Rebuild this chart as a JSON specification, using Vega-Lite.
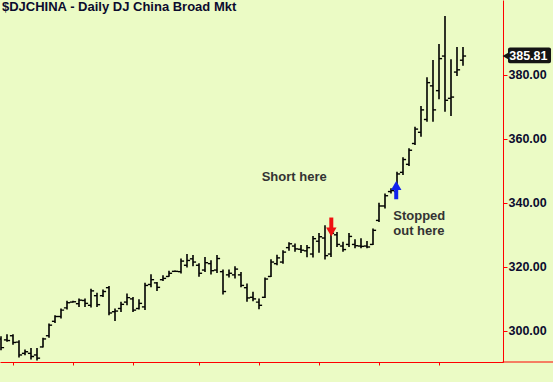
{
  "$schema": "https://vega.github.io/schema/vega-lite/v6.json",
  "width": 503,
  "height": 362,
  "autosize": {"type": "none"},
  "padding": {"left": 0, "top": 0, "right": 50, "bottom": 20},
  "background": "#ebfbc5",
  "config": {
    "view": {"stroke": null, "fill": "#ebfbc5"},
    "font": "Liberation Sans",
    "axis": {"labelOverlap": false, "labelFlush": false, "grid": false, "title": null, "domainColor": "#ff0000", "tickColor": "#ff0000", "domainWidth": 1, "tickWidth": 1, "labelFont": "Liberation Sans", "labelFontWeight": "bold", "labelColor": "#0b0b2e"},
    "axisX": {"labelFontSize": 12, "labelPadding": 0},
    "axisY": {"labelFontSize": 12.5, "labelPadding": 1, "labelBaseline": "middle", "tickSize": 4}
  },
  "title": {"text": "$DJCHINA - Daily  DJ China Broad Mkt", "anchor": "start", "frame": "group", "orient": "top", "baseline": "top", "offset": 0, "dy": 14, "dx": 2, "font": "Liberation Sans", "fontSize": 13, "fontWeight": "bold", "color": "#0b0b2e"},
  "datasets": {
    "ohlc": [
      {"i":0,"o":297.5,"h":298.3,"l":294.0,"c":294.8},
      {"i":1,"o":297.2,"h":299.0,"l":296.6,"c":297.0},
      {"i":2,"o":298.5,"h":299.0,"l":295.7,"c":296.4},
      {"i":3,"o":296.5,"h":297.1,"l":291.7,"c":292.5},
      {"i":4,"o":293.0,"h":294.2,"l":292.4,"c":293.5},
      {"i":5,"o":293.0,"h":294.7,"l":291.1,"c":292.0},
      {"i":6,"o":292.5,"h":294.7,"l":290.8,"c":291.5},
      {"i":7,"o":295.0,"h":297.9,"l":294.8,"c":297.5},
      {"i":8,"o":298.5,"h":302.3,"l":297.9,"c":301.8},
      {"i":9,"o":303.0,"h":304.9,"l":302.5,"c":304.5},
      {"i":10,"o":304.5,"h":307.0,"l":303.9,"c":306.5},
      {"i":11,"o":307.2,"h":309.4,"l":306.7,"c":308.8},
      {"i":12,"o":309.0,"h":309.4,"l":308.9,"c":309.1},
      {"i":13,"o":308.5,"h":310.1,"l":307.5,"c":309.6},
      {"i":14,"o":309.5,"h":310.1,"l":307.5,"c":308.6},
      {"i":15,"o":308.0,"h":313.2,"l":307.3,"c":312.5},
      {"i":16,"o":311.0,"h":311.9,"l":307.5,"c":308.2},
      {"i":17,"o":311.0,"h":312.9,"l":310.6,"c":312.3},
      {"i":18,"o":313.5,"h":314.0,"l":304.9,"c":305.6},
      {"i":19,"o":306.0,"h":307.0,"l":303.1,"c":306.2},
      {"i":20,"o":307.0,"h":309.1,"l":305.9,"c":308.3},
      {"i":21,"o":309.0,"h":311.7,"l":308.0,"c":310.4},
      {"i":22,"o":310.0,"h":310.6,"l":305.9,"c":306.5},
      {"i":23,"o":307.0,"h":309.9,"l":306.7,"c":308.6},
      {"i":24,"o":307.5,"h":315.0,"l":306.5,"c":314.2},
      {"i":25,"o":314.5,"h":317.7,"l":313.6,"c":316.0},
      {"i":26,"o":315.0,"h":315.3,"l":312.5,"c":313.6},
      {"i":27,"o":316.0,"h":317.4,"l":315.6,"c":316.4},
      {"i":28,"o":317.0,"h":318.8,"l":316.9,"c":318.0},
      {"i":29,"o":318.6,"h":318.9,"l":318.4,"c":318.6},
      {"i":30,"o":318.5,"h":322.6,"l":317.9,"c":321.8},
      {"i":31,"o":320.5,"h":324.0,"l":319.8,"c":322.0},
      {"i":32,"o":322.5,"h":323.7,"l":320.2,"c":321.5},
      {"i":33,"o":320.5,"h":321.1,"l":316.9,"c":318.0},
      {"i":34,"o":319.0,"h":323.1,"l":318.4,"c":321.3},
      {"i":35,"o":321.0,"h":322.1,"l":317.6,"c":318.8},
      {"i":36,"o":319.0,"h":323.7,"l":318.1,"c":322.6},
      {"i":37,"o":318.5,"h":319.2,"l":311.4,"c":312.3},
      {"i":38,"o":317.5,"h":319.2,"l":316.7,"c":318.0},
      {"i":39,"o":317.5,"h":320.2,"l":316.4,"c":319.3},
      {"i":40,"o":317.5,"h":318.4,"l":313.6,"c":314.2},
      {"i":41,"o":313.5,"h":314.8,"l":309.1,"c":310.3},
      {"i":42,"o":310.5,"h":312.2,"l":309.3,"c":310.0},
      {"i":43,"o":309.0,"h":310.1,"l":306.8,"c":308.0},
      {"i":44,"o":310.5,"h":316.7,"l":310.3,"c":316.2},
      {"i":45,"o":317.0,"h":322.4,"l":316.8,"c":321.5},
      {"i":46,"o":321.0,"h":323.8,"l":320.5,"c":322.8},
      {"i":47,"o":321.5,"h":325.2,"l":321.0,"c":324.6},
      {"i":48,"o":326.0,"h":327.7,"l":325.0,"c":327.2},
      {"i":49,"o":326.5,"h":327.3,"l":324.7,"c":325.6},
      {"i":50,"o":325.5,"h":326.8,"l":324.3,"c":325.2},
      {"i":51,"o":325.0,"h":326.8,"l":323.0,"c":326.0},
      {"i":52,"o":324.0,"h":329.6,"l":322.9,"c":328.8},
      {"i":53,"o":328.0,"h":330.6,"l":324.4,"c":329.4},
      {"i":54,"o":329.0,"h":333.0,"l":322.3,"c":323.5},
      {"i":55,"o":324.0,"h":332.0,"l":323.1,"c":330.5},
      {"i":56,"o":330.0,"h":330.9,"l":326.2,"c":327.0},
      {"i":57,"o":326.5,"h":327.8,"l":324.7,"c":325.4},
      {"i":58,"o":327.0,"h":330.6,"l":326.2,"c":329.5},
      {"i":59,"o":327.0,"h":328.6,"l":325.8,"c":326.6},
      {"i":60,"o":326.5,"h":328.9,"l":325.8,"c":326.4},
      {"i":61,"o":326.5,"h":328.1,"l":325.8,"c":326.2},
      {"i":62,"o":327.0,"h":332.0,"l":326.8,"c":331.4},
      {"i":63,"o":334.5,"h":340.0,"l":334.0,"c":339.0},
      {"i":64,"o":339.0,"h":342.9,"l":338.2,"c":342.2},
      {"i":65,"o":343.5,"h":344.5,"l":342.9,"c":343.8},
      {"i":66,"o":343.5,"h":349.7,"l":342.9,"c":349.0},
      {"i":67,"o":349.5,"h":354.2,"l":348.7,"c":353.5},
      {"i":68,"o":352.0,"h":357.0,"l":351.5,"c":356.4},
      {"i":69,"o":358.5,"h":363.7,"l":358.0,"c":363.0},
      {"i":70,"o":362.0,"h":370.2,"l":360.6,"c":369.0},
      {"i":71,"o":366.0,"h":379.2,"l":365.3,"c":377.5},
      {"i":72,"o":376.5,"h":384.6,"l":365.3,"c":369.0},
      {"i":73,"o":375.0,"h":389.6,"l":372.3,"c":385.0},
      {"i":74,"o":385.8,"h":398.3,"l":368.4,"c":372.0},
      {"i":75,"o":372.6,"h":384.8,"l":367.1,"c":373.0},
      {"i":76,"o":380.8,"h":388.6,"l":379.6,"c":381.5},
      {"i":77,"o":384.5,"h":388.6,"l":382.8,"c":385.81}
    ],
    "notes": [
      {"i":43.45,"v":346.9,"label":"Short here"},
      {"i":65.38,"v":334.75,"label":"Stopped\nout here"}
    ],
    "shafts": [
      {"i":55.05,"v1":335.4,"v2":332.0,"dir":"down"},
      {"i":65.87,"v1":341.1,"v2":344.3,"dir":"up"}
    ],
    "heads": [
      {"i":55.05,"v":330.9,"dir":"down"},
      {"i":65.87,"v":345.4,"dir":"up"}
    ],
    "last": [{"x1":84.5,"x2":91.67,"y1":383.56,"y2":388.44,"tip":84.1,"xc":87.9,"v":385.81,"label":"385.81"}],
    "baseline": [{"x1":83.6,"x2":92.5,"v":290.3}]
  },
  "layer": [
    {
      "data": {"name": "ohlc"},
      "mark": {"type": "rule", "color": "#000000", "strokeWidth": 1.6},
      "encoding": {
        "x": {"field": "i", "type": "quantitative",
          "scale": {"domain": [-0.1667, 83.667], "nice": false, "zero": false},
          "axis": {
            "values": [2,7,12,17,22,29,33,38,43,48,53,58,63,68,73,78],
            "labelExpr": "datum.value == 7 ? \"Sep'14\" : datum.value == 29 ? \"Oct'14\" : datum.value == 48 ? \"Nov'14\" : datum.value == 68 ? \"Dec'14\" : ''",
            "tickSize": {"condition": {"test": "indexof([7,29,48,68], datum.value) >= 0", "value": 7}, "value": 3},
            "labelOverlap": false
          }
        },
        "y": {"field": "l", "type": "quantitative",
          "scale": {"domain": [290.3, 403.3], "nice": false, "zero": false},
          "axis": {"orient": "right", "values": [300,320,340,360,380], "format": ".2f", "labelOverlap": false}
        },
        "y2": {"field": "h"}
      }
    },
    {
      "data": {"name": "ohlc"},
      "mark": {"type": "tick", "orient": "horizontal", "size": 3, "thickness": 1.4, "xOffset": -1.6, "color": "#000000", "opacity": 1},
      "encoding": {
        "x": {"field": "i", "type": "quantitative"},
        "y": {"field": "o", "type": "quantitative"}
      }
    },
    {
      "data": {"name": "ohlc"},
      "mark": {"type": "tick", "orient": "horizontal", "size": 3, "thickness": 1.4, "xOffset": 1.6, "color": "#000000", "opacity": 1},
      "encoding": {
        "x": {"field": "i", "type": "quantitative"},
        "y": {"field": "c", "type": "quantitative"}
      }
    },
    {
      "data": {"name": "notes"},
      "mark": {"type": "text", "align": "left", "baseline": "alphabetic", "font": "Liberation Sans", "fontSize": 13, "fontWeight": "bold", "color": "#333333", "lineBreak": "\n", "lineHeight": 15},
      "encoding": {
        "x": {"field": "i", "type": "quantitative"},
        "y": {"field": "v", "type": "quantitative"},
        "text": {"field": "label"}
      }
    },
    {
      "data": {"name": "shafts"},
      "mark": {"type": "rule", "strokeWidth": 4},
      "encoding": {
        "x": {"field": "i", "type": "quantitative"},
        "y": {"field": "v1", "type": "quantitative"},
        "y2": {"field": "v2"},
        "color": {"field": "dir", "type": "nominal", "scale": {"domain": ["down","up"], "range": ["#ee1111","#1122ee"]}, "legend": null}
      }
    },
    {
      "data": {"name": "heads"},
      "mark": {"type": "point", "filled": true, "opacity": 1, "size": 110},
      "encoding": {
        "x": {"field": "i", "type": "quantitative"},
        "y": {"field": "v", "type": "quantitative"},
        "shape": {"field": "dir", "type": "nominal", "scale": {"domain": ["down","up"], "range": ["triangle-down","triangle-up"]}, "legend": null},
        "color": {"field": "dir", "type": "nominal", "legend": null}
      }
    },
    {
      "data": {"name": "baseline"},
      "mark": {"type": "rule", "color": "#ff0000", "strokeWidth": 1},
      "encoding": {
        "x": {"field": "x1", "type": "quantitative"},
        "x2": {"field": "x2"},
        "y": {"field": "v", "type": "quantitative"}
      }
    },
    {
      "data": {"name": "last"},
      "mark": {"type": "rect", "color": "#141414", "cornerRadius": 2},
      "encoding": {
        "x": {"field": "x1", "type": "quantitative"},
        "x2": {"field": "x2"},
        "y": {"field": "y1", "type": "quantitative"},
        "y2": {"field": "y2"}
      }
    },
    {
      "data": {"name": "last"},
      "mark": {"type": "point", "shape": "triangle-left", "filled": true, "opacity": 1, "size": 50, "color": "#141414"},
      "encoding": {
        "x": {"field": "tip", "type": "quantitative"},
        "y": {"field": "v", "type": "quantitative"}
      }
    },
    {
      "data": {"name": "last"},
      "mark": {"type": "text", "align": "center", "baseline": "middle", "font": "Liberation Sans", "fontSize": 12.5, "fontWeight": "bold", "color": "#ffffff"},
      "encoding": {
        "x": {"field": "xc", "type": "quantitative"},
        "y": {"field": "v", "type": "quantitative"},
        "text": {"field": "label"}
      }
    }
  ]
}
